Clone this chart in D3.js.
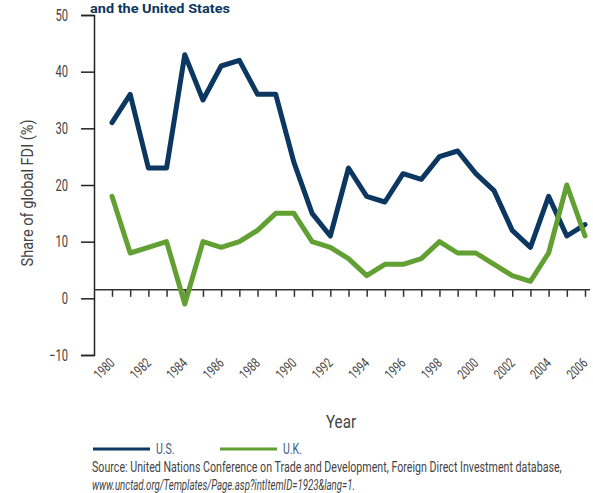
<!DOCTYPE html>
<html><head><meta charset="utf-8">
<script src="https://cdn.jsdelivr.net/npm/d3@7"></script>
<style>
body{margin:0;background:#fff;}
svg text{font-family:"Roboto","Liberation Sans",sans-serif;}
</style></head>
<body><svg id="c" width="593" height="493"></svg>
<script>
const years = d3.range(1980, 2007);
const usValues = [31,36,23,23,43,35,41,42,36,36,24,15,11,23,18,17,22,21,25,26,22,19,12,9,18,11,13];
const ukValues = [18,8,9,10,-1,10,9,10,12,15,15,10,9,7,4,6,6,7,10,8,8,6,4,3,8,20,11];
const yTicks = [-10,0,10,20,30,40,50];
const yearLabels = d3.range(1980, 2007, 2);
const seriesNames = ["U.S.","U.K."];
const colors = ["#0b3760","#62a033"];

const svg = d3.select("#c");
const x = d3.scaleLinear().domain([1980,2006]).range([112,585]);
const y = d3.scaleLinear().domain([-10,50]).range([355,15]);

// horizontal condensing via transform (x,y folded into transform)
function squeeze(sel, f, target){
  sel.each(function(){
    const el = d3.select(this);
    const px = +(el.attr("x")||0), py = +(el.attr("y")||0);
    const t = el.attr("transform")||"";
    const k = target ? target/this.getComputedTextLength() : f;
    el.attr("x",0).attr("y",0).attr("transform",`${t} translate(${px},${py}) scale(${k},1)`);
  });
}

// title fragment
squeeze(svg.append("text").attr("x",90).attr("y",13).attr("font-size",13).attr("font-weight","bold")
  .attr("fill","#0b3760").text("and the United States"), 0, 140);

// y axis
const ya = svg.append("g").attr("transform","translate(94,0)")
  .call(d3.axisLeft(y).tickValues(yTicks).tickSize(13).tickPadding(13).tickFormat(d3.format("d")));
ya.select(".domain").attr("stroke","#222").attr("stroke-width",1.5);
ya.selectAll(".tick line").attr("stroke","#222").attr("stroke-width",1.5);
ya.selectAll("text").attr("font-size",16).attr("fill","#444");
squeeze(ya.selectAll("text"), 0.7);

// x axis ticks line
const xa = svg.append("g").attr("transform",`translate(0,${y(1.5)})`)
  .call(d3.axisBottom(x).tickValues(years).tickSize(7).tickFormat(""));
xa.select(".domain").attr("d",`M94,0H590`).attr("stroke","#333").attr("stroke-width",1.5);
xa.selectAll(".tick line").attr("stroke","#333").attr("stroke-width",1.5);

// x labels
const xl = svg.append("g").attr("transform","translate(0,358)")
  .call(d3.axisBottom(x).tickValues(yearLabels).tickSize(0).tickFormat(d3.format("d")));
xl.select(".domain").remove();
xl.selectAll("text").attr("font-size",14).attr("fill","#444")
  .attr("text-anchor","end").attr("dy",0).attr("dx",0)
  .attr("transform","translate(3,6) rotate(-45)").attr("y",0).attr("x",0);
squeeze(xl.selectAll("text"), 0.72);

// lines
const line = d3.line().x((d,i)=>x(years[i])).y(d=>y(d));
[usValues, ukValues].forEach((vals,k)=>{
  svg.append("path").attr("d",line(vals)).attr("fill","none")
    .attr("stroke",colors[k]).attr("stroke-width",5).attr("stroke-linejoin","round").attr("stroke-linecap","round");
});

// axis titles
squeeze(svg.append("text").attr("transform","translate(33,193) rotate(-90)").attr("text-anchor","middle")
  .attr("font-size",17).attr("fill","#444").text("Share of global FDI (%)"), 0, 147);
squeeze(svg.append("text").attr("x",341).attr("y",428).attr("text-anchor","middle")
  .attr("font-size",19).attr("fill","#444").text("Year"), 0.8);

// legend
const lx = [93,220];
seriesNames.forEach((n,k)=>{
  svg.append("line").attr("x1",lx[k]).attr("x2",lx[k]+57).attr("y1",449).attr("y2",449)
    .attr("stroke",colors[k]).attr("stroke-width",3);
  squeeze(svg.append("text").attr("x",lx[k]+63).attr("y",454).attr("font-size",14)
    .attr("fill","#3b5e86").text(n), 0.75);
});

// source
squeeze(svg.append("text").attr("x",92).attr("y",472).attr("font-size",14).attr("fill","#444")
  .text("Source: United Nations Conference on Trade and Development, Foreign Direct Investment database,"), 0, 470);
squeeze(svg.append("text").attr("x",92).attr("y",490).attr("font-size",14).attr("fill","#444").attr("font-style","italic")
  .text("www.unctad.org/Templates/Page.asp?intItemID=1923&lang=1."), 0, 263);
</script></body></html>
